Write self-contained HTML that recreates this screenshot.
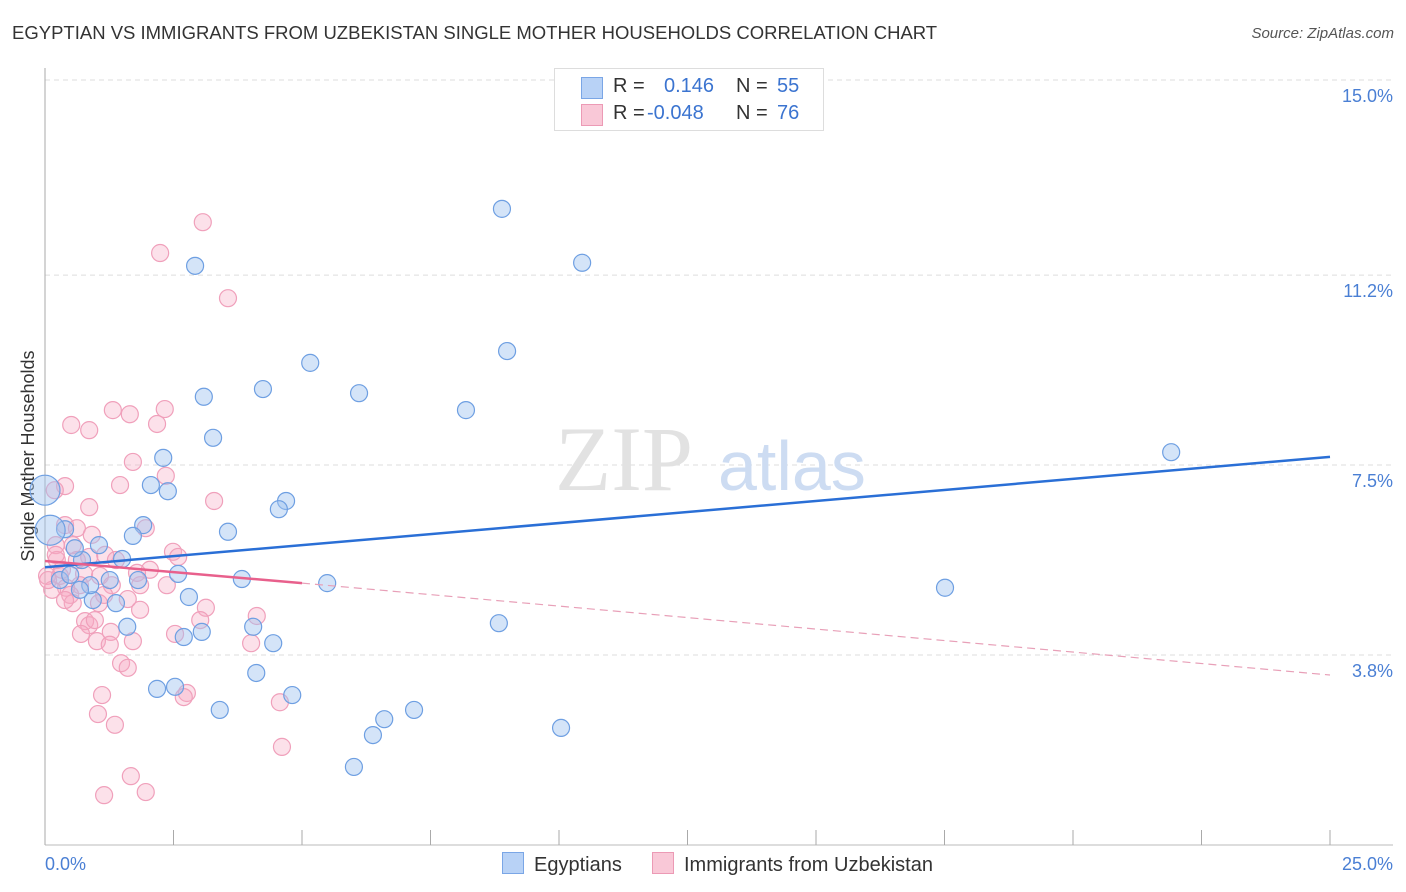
<!DOCTYPE html>
<html><head><meta charset="utf-8">
<style>
body{margin:0;background:#fff;font-family:"Liberation Sans",sans-serif;}
#wrap{position:relative;width:1406px;height:892px;overflow:hidden;}
.t{position:absolute;white-space:nowrap;}
</style></head>
<body>
<div id="wrap">
<div class="t" style="left:12px;top:22px;font-size:18.5px;color:#333;">EGYPTIAN VS IMMIGRANTS FROM UZBEKISTAN SINGLE MOTHER HOUSEHOLDS CORRELATION CHART</div>
<div class="t" style="right:12px;top:25px;font-size:15px;color:#555;font-style:italic;">Source: ZipAtlas.com</div>
<svg id="svg" width="1406" height="892" style="position:absolute;left:0;top:0"></svg>
</div>
<script>
const xTicks=[0,25];
const yTicks=[3.8,7.5,11.2,15.0];
const yTickLabels=["3.8%","7.5%","11.2%","15.0%"];
const blueX=[8.89,10.45,2.92,8.99,5.16,4.24,6.11,3.09,8.19,3.27,21.91,2.30,2.06,2.39,4.69,4.55,1.91,3.56,0.39,1.71,1.05,1.50,0.72,1.26,1.81,2.59,3.83,5.49,17.51,2.80,0.93,1.38,8.83,4.05,1.60,3.05,2.70,4.44,4.11,4.81,2.18,2.53,3.40,7.18,6.60,6.38,10.04,6.01,0.29,0.49,0.58,0.88,0.68];
const blueY=[12.49,11.44,11.38,9.72,9.49,8.98,8.90,8.83,8.57,8.03,7.75,7.64,7.11,6.99,6.80,6.64,6.33,6.20,6.25,6.12,5.94,5.67,5.65,5.26,5.26,5.38,5.28,5.20,5.11,4.93,4.87,4.81,4.42,4.35,4.35,4.25,4.15,4.03,3.45,3.02,3.14,3.18,2.73,2.73,2.55,2.24,2.38,1.62,5.26,5.36,5.88,5.16,5.07];
const blueBigX=[0,0.1];
const blueBigY=[7.01,6.23];
const pinkX=[3.07,2.24,3.56,1.32,2.33,1.65,0.51,0.86,2.18,1.71,2.35,1.46,0.39,0.19,0.86,3.29,0.39,0.62,1.96,0.91,0.54,0.21,2.49,2.59,1.17,0.86,1.38,0.23,0.76,0.29,1.07,0.04,0.68,0.41,1.30,1.85,2.37,0.14,0.49,1.15,0.54,1.05,1.61,1.85,3.13,4.12,0.78,0.86,0.70,1.28,1.71,1.01,4.01,2.53,1.48,1.61,1.11,2.76,2.70,1.03,1.36,4.57,4.61,1.67,1.15,1.96,0.21,0.06,0.33,0.62,0.97,2.04,1.79,1.26,3.02,0.39];
const pinkY=[12.23,11.63,10.75,8.57,8.59,8.49,8.28,8.18,8.30,7.56,7.29,7.11,7.09,7.01,6.68,6.80,6.33,6.27,6.27,6.14,5.94,5.94,5.81,5.71,5.75,5.71,5.65,5.65,5.38,5.34,5.34,5.34,5.16,5.11,5.16,5.16,5.16,5.07,4.97,4.97,4.81,4.81,4.89,4.68,4.72,4.56,4.46,4.38,4.21,4.25,4.07,4.07,4.03,4.21,3.64,3.55,3.02,3.06,2.98,2.65,2.44,2.88,2.01,1.44,1.07,1.13,5.75,5.26,5.46,5.65,4.48,5.46,5.40,4.00,4.48,4.87];
const blueTrendX=[0,25];
const blueTrendY=[5.51,7.66];
const pinkTrendX=[0,5,25];
const pinkTrendY=[5.63,5.20,3.41];

const L=45,R=1330;
const xs=v=>L+(R-L)*v/25;
const ys=v=>655-(v-3.8)*51.34;
const svg=document.getElementById('svg');
const NS='http://www.w3.org/2000/svg';
function mk(tag,attrs,parent){const e=document.createElementNS(NS,tag);for(const k in attrs)e.setAttribute(k,attrs[k]);(parent||svg).appendChild(e);return e;}

yTicks.forEach((v,i)=>{
  const g=mk('line',{x1:L,x2:1393,y1:ys(v),y2:ys(v),stroke:'#ddd','stroke-dasharray':'5,4'});
  
  
  const t=mk('text',{x:1393,y:ys(v)+22,'text-anchor':'end','font-size':'18',fill:'#4a7fd4','font-family':'Liberation Sans, sans-serif'});
  t.textContent=yTickLabels[i];
  
  
});
const wm=mk('text',{x:555,y:490,'font-size':'92','font-family':'Liberation Serif, serif',fill:'#e2e2e2'});wm.textContent='ZIP';


const wm2=mk('text',{x:718,y:490,'font-size':'70','font-family':'Liberation Sans, sans-serif',fill:'#cddcf2'});wm2.textContent='atlas';


const ax=mk('line',{x1:L,x2:L,y1:68,y2:845,stroke:'#aaa'});


const bx=mk('line',{x1:L,x2:1393,y1:845,y2:845,stroke:'#bbb'});


for(let i=0;i<=10;i++){const x=xs(i*2.5);const tk=mk('line',{x1:x,x2:x,y1:830,y2:845,stroke:'#aaa'});

}
xTicks.forEach((v,i)=>{const t=mk('text',{x:i?1393:45,y:870,'text-anchor':i?'end':'start','font-size':'18',fill:'#4a7fd4','font-family':'Liberation Sans, sans-serif'});t.textContent=v.toFixed(1)+'%';

});
const yt=mk('text',{x:0,y:0,transform:'translate(34,456) rotate(-90)','text-anchor':'middle','font-size':'18',fill:'#333','font-family':'Liberation Sans, sans-serif'});yt.textContent='Single Mother Households';



pinkX.forEach((v,i)=>{const c=mk('circle',{cx:xs(v),cy:ys(pinkY[i]),r:8.5,fill:'rgba(246,170,195,0.35)',stroke:'#f0a0bb','stroke-width':1.2});

});
blueX.forEach((v,i)=>{const c=mk('circle',{cx:xs(v),cy:ys(blueY[i]),r:8.5,fill:'rgba(160,195,240,0.45)',stroke:'#6e9fe2','stroke-width':1.2});

});
blueBigX.forEach((v,i)=>{const c=mk('circle',{cx:xs(v),cy:ys(blueBigY[i]),r:15,fill:'rgba(160,195,240,0.45)',stroke:'#6e9fe2','stroke-width':1.2});

});
const bl=mk('line',{x1:xs(blueTrendX[0]),y1:ys(blueTrendY[0]),x2:xs(blueTrendX[1]),y2:ys(blueTrendY[1]),stroke:'#2a6fd6','stroke-width':2.5});


const pl=mk('line',{x1:xs(pinkTrendX[0]),y1:ys(pinkTrendY[0]),x2:xs(pinkTrendX[1]),y2:ys(pinkTrendY[1]),stroke:'#e8608c','stroke-width':2.5});


const pd=mk('line',{x1:xs(pinkTrendX[1]),y1:ys(pinkTrendY[1]),x2:xs(pinkTrendX[2]),y2:ys(pinkTrendY[2]),stroke:'#e8a0b8','stroke-width':1.2,'stroke-dasharray':'8,5'});


</script>
<div style="position:absolute;left:554px;top:68px;width:268px;height:61px;border:1px solid #ddd;background:#fff;font-size:20px;">
  <div style="position:absolute;left:26px;top:8px;width:20px;height:20px;background:#b8d2f6;border:1px solid #7aa6e6;"></div>
  <div class="t" style="left:58px;top:6px;color:#333;">R =</div>
  <div class="t" style="left:109px;top:6px;color:#3b74d0;">0.146</div>
  <div class="t" style="left:181px;top:6px;color:#333;">N =</div>
  <div class="t" style="left:222px;top:6px;color:#3b74d0;">55</div>
  <div style="position:absolute;left:26px;top:35px;width:20px;height:20px;background:#f9c8d7;border:1px solid #ec9ab5;"></div>
  <div class="t" style="left:58px;top:33px;color:#333;">R =</div>
  <div class="t" style="left:92px;top:33px;color:#3b74d0;">-0.048</div>
  <div class="t" style="left:181px;top:33px;color:#333;">N =</div>
  <div class="t" style="left:222px;top:33px;color:#3b74d0;">76</div>
</div>
<div style="position:absolute;left:0;top:852px;width:1406px;height:26px;font-size:20px;color:#333;">
  <div class="t" style="left:502px;top:0;">
    <span style="display:inline-block;width:20px;height:20px;background:#b8d2f6;border:1px solid #7aa6e6;vertical-align:-3px;margin-right:10px;"></span>Egyptians</div>
  <div class="t" style="left:652px;top:0;">
    <span style="display:inline-block;width:20px;height:20px;background:#f9c8d7;border:1px solid #ec9ab5;vertical-align:-3px;margin-right:10px;"></span>Immigrants from Uzbekistan</div>
</div>
</body></html>
